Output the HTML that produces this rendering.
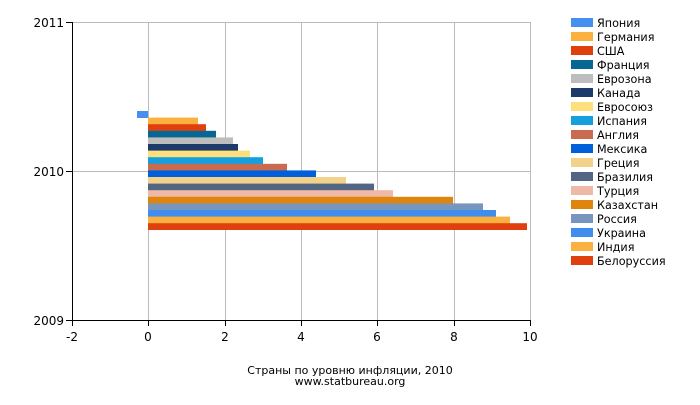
<!DOCTYPE html><html><head><style>body{margin:0;background:#fff}</style></head><body>
<svg width="700" height="400" xmlns="http://www.w3.org/2000/svg" font-family="DejaVu Sans, sans-serif">
<g stroke="#bbb" stroke-width="1">
<line x1="148.5" y1="22" x2="148.5" y2="320"/><line x1="225.5" y1="22" x2="225.5" y2="320"/><line x1="301.5" y1="22" x2="301.5" y2="320"/><line x1="377.5" y1="22" x2="377.5" y2="320"/><line x1="454.5" y1="22" x2="454.5" y2="320"/><line x1="530.5" y1="22" x2="530.5" y2="320"/>
<line x1="72" y1="171.5" x2="530" y2="171.5"/><line x1="72" y1="22.5" x2="530" y2="22.5"/>
</g>
<g stroke="#000" stroke-width="1">
<line x1="72.5" y1="22" x2="72.5" y2="320"/><line x1="72" y1="320.5" x2="531" y2="320.5"/>
<line x1="66" y1="22.5" x2="72" y2="22.5"/><line x1="66" y1="171.5" x2="72" y2="171.5"/><line x1="66" y1="320.5" x2="72" y2="320.5"/>
<line x1="72.5" y1="320" x2="72.5" y2="326"/><line x1="148.5" y1="320" x2="148.5" y2="326"/><line x1="225.5" y1="320" x2="225.5" y2="326"/><line x1="301.5" y1="320" x2="301.5" y2="326"/><line x1="377.5" y1="320" x2="377.5" y2="326"/><line x1="454.5" y1="320" x2="454.5" y2="326"/><line x1="530.5" y1="320" x2="530.5" y2="326"/>
</g>
<g font-size="12" fill="#000" text-anchor="end">
<text x="64" y="27">2011</text><text x="64" y="176">2010</text><text x="64" y="325">2009</text>
</g>
<g font-size="12" fill="#000" text-anchor="middle">
<text x="72" y="341">-2</text><text x="148" y="341">0</text><text x="225" y="341">2</text><text x="301" y="341">4</text><text x="377" y="341">6</text><text x="454" y="341">8</text><text x="530" y="341">10</text>
<text x="350" y="374" font-size="11">Страны по уровню инфляции, 2010</text>
<text x="350" y="385" font-size="11">www.statbureau.org</text>
</g>
<g>
<rect x="137" y="111" width="11" height="7" fill="#4590ee"/>
<rect x="148" y="117.6" width="50" height="7" fill="#fab13f"/>
<rect x="148" y="124.2" width="58" height="7" fill="#e0400e"/>
<rect x="148" y="130.8" width="68" height="7" fill="#066694"/>
<rect x="148" y="137.4" width="85" height="7" fill="#bdbdbd"/>
<rect x="148" y="144" width="90" height="7" fill="#1c3a6a"/>
<rect x="148" y="150.6" width="102" height="7" fill="#fde07e"/>
<rect x="148" y="157.2" width="115" height="7" fill="#159fdf"/>
<rect x="148" y="163.8" width="139" height="7" fill="#c96b4f"/>
<rect x="148" y="170.4" width="168" height="7" fill="#025fdb"/>
<rect x="148" y="177" width="198" height="7" fill="#f2d18b"/>
<rect x="148" y="183.6" width="226" height="7" fill="#526582"/>
<rect x="148" y="190.2" width="245" height="7" fill="#efb9a7"/>
<rect x="148" y="196.8" width="305" height="7" fill="#df840c"/>
<rect x="148" y="203.4" width="335" height="7" fill="#7895bf"/>
<rect x="148" y="210" width="348" height="7" fill="#408ded"/>
<rect x="148" y="216.6" width="362" height="7" fill="#fab13f"/>
<rect x="148" y="223.2" width="379" height="6.8" fill="#e0400e"/>
</g>
<g font-size="11.2" fill="#000">
<rect x="571" y="18" width="22" height="9" fill="#4590ee"/><text x="597" y="27">Япония</text>
<rect x="571" y="32" width="22" height="9" fill="#fab13f"/><text x="597" y="41">Германия</text>
<rect x="571" y="46" width="22" height="9" fill="#e0400e"/><text x="597" y="55">США</text>
<rect x="571" y="60" width="22" height="9" fill="#066694"/><text x="597" y="69">Франция</text>
<rect x="571" y="74" width="22" height="9" fill="#bdbdbd"/><text x="597" y="83">Еврозона</text>
<rect x="571" y="88" width="22" height="9" fill="#1c3a6a"/><text x="597" y="97">Канада</text>
<rect x="571" y="102" width="22" height="9" fill="#fde07e"/><text x="597" y="111">Евросоюз</text>
<rect x="571" y="116" width="22" height="9" fill="#159fdf"/><text x="597" y="125">Испания</text>
<rect x="571" y="130" width="22" height="9" fill="#c96b4f"/><text x="597" y="139">Англия</text>
<rect x="571" y="144" width="22" height="9" fill="#025fdb"/><text x="597" y="153">Мексика</text>
<rect x="571" y="158" width="22" height="9" fill="#f2d18b"/><text x="597" y="167">Греция</text>
<rect x="571" y="172" width="22" height="9" fill="#526582"/><text x="597" y="181">Бразилия</text>
<rect x="571" y="186" width="22" height="9" fill="#efb9a7"/><text x="597" y="195">Турция</text>
<rect x="571" y="200" width="22" height="9" fill="#df840c"/><text x="597" y="209">Казахстан</text>
<rect x="571" y="214" width="22" height="9" fill="#7895bf"/><text x="597" y="223">Россия</text>
<rect x="571" y="228" width="22" height="9" fill="#408ded"/><text x="597" y="237">Украина</text>
<rect x="571" y="242" width="22" height="9" fill="#fab13f"/><text x="597" y="251">Индия</text>
<rect x="571" y="256" width="22" height="9" fill="#e0400e"/><text x="597" y="265">Белоруссия</text>
</g>
</svg>
</body></html>
